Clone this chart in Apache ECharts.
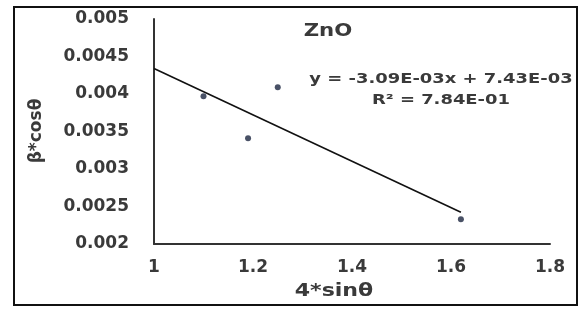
<!DOCTYPE html>
<html>
<head>
<meta charset="utf-8">
<script src="https://cdn.jsdelivr.net/npm/echarts@6/dist/echarts.min.js"></script>
<style>
html,body{margin:0;padding:0;background:#fff;}
#chart{width:579px;height:309px;}
</style>
</head>
<body>
<div id="chart"></div>
<script>
var xValues = [1.10, 1.19, 1.25, 1.62];
var yValues = [0.00397, 0.00341, 0.00409, 0.00233];
var slope = -3.09e-3;
var intercept = 7.43e-3;
var trendStartX = 1.0;
var chartTitle = 'ZnO';
var eqText = 'y = -3.09E-03x + 7.43E-03';
var r2Text = 'R\u00b2 = 7.84E-01';
var xAxisName = '4*sin\u03b8';
var yAxisName = '\u03b2*cos\u03b8';

var points = xValues.map(function (x, i) { return [x, yValues[i]]; });
var trendEndX = Math.max.apply(null, xValues);
var trend = [[trendStartX, slope * trendStartX + intercept], [trendEndX, slope * trendEndX + intercept]];

var FONT = 'DejaVu Sans';
var TXT = '#3a3a3a';
var chart = echarts.init(document.getElementById('chart'));
chart.setOption({
  animation: false,
  backgroundColor: '#fff',
  grid: {left: 154, top: 19, width: 396, height: 225, containLabel: false},
  xAxis: {
    type: 'value', min: 1, max: 1.8, interval: 0.2,
    axisLine: {lineStyle: {color: '#333', width: 2}},
    axisTick: {show: false},
    splitLine: {show: false},
    axisLabel: {margin: 15, color: TXT, fontFamily: FONT, fontWeight: 'bold', fontSize: 17,
      formatter: function (v) { return String(Math.round(v * 10) / 10); }}
  },
  yAxis: {
    type: 'value', min: 0.002, max: 0.005, interval: 0.0005,
    axisLine: {show: true, lineStyle: {color: '#333', width: 2}},
    axisTick: {show: false},
    splitLine: {show: false},
    axisLabel: {margin: 25, color: TXT, fontFamily: FONT, fontWeight: 'bold', fontSize: 17,
      formatter: function (v) { return String(Math.round(v * 10000) / 10000); }}
  },
  series: [
    {type: 'scatter', data: points, symbol: 'circle', symbolSize: 6,
      itemStyle: {color: '#1c2540'}, z: 3},
    {type: 'line', data: trend, symbol: 'none', lineStyle: {color: '#111', width: 1.6}, z: 2}
  ],
  graphic: [
    {type: 'rect', shape: {x: 14, y: 7, width: 563, height: 298},
      style: {fill: null, stroke: '#111', lineWidth: 2}, z: 10},
    {type: 'text', x: 328, y: 32, scaleX: 1.25, style: {text: chartTitle, font: 'bold 17px "DejaVu Sans"', fill: TXT, textAlign: 'center', textVerticalAlign: 'middle'}},
    {type: 'text', x: 441, y: 79, scaleX: 1.28, style: {text: eqText, font: 'bold 14px "DejaVu Sans"', fill: TXT, textAlign: 'center', textVerticalAlign: 'middle'}},
    {type: 'text', x: 441, y: 100, scaleX: 1.28, style: {text: r2Text, font: 'bold 14px "DejaVu Sans"', fill: TXT, textAlign: 'center', textVerticalAlign: 'middle'}},
    {type: 'text', x: 334, y: 292, scaleX: 1.3, style: {text: xAxisName, font: 'bold 17px "DejaVu Sans"', fill: TXT, textAlign: 'center', textVerticalAlign: 'middle'}},
    {type: 'text', x: 37, y: 131, rotation: Math.PI / 2, scaleX: 1.0, style: {text: yAxisName, font: 'bold 17px "DejaVu Sans"', fill: TXT, textAlign: 'center', textVerticalAlign: 'middle'}}
  ]
});
</script>
</body>
</html>
